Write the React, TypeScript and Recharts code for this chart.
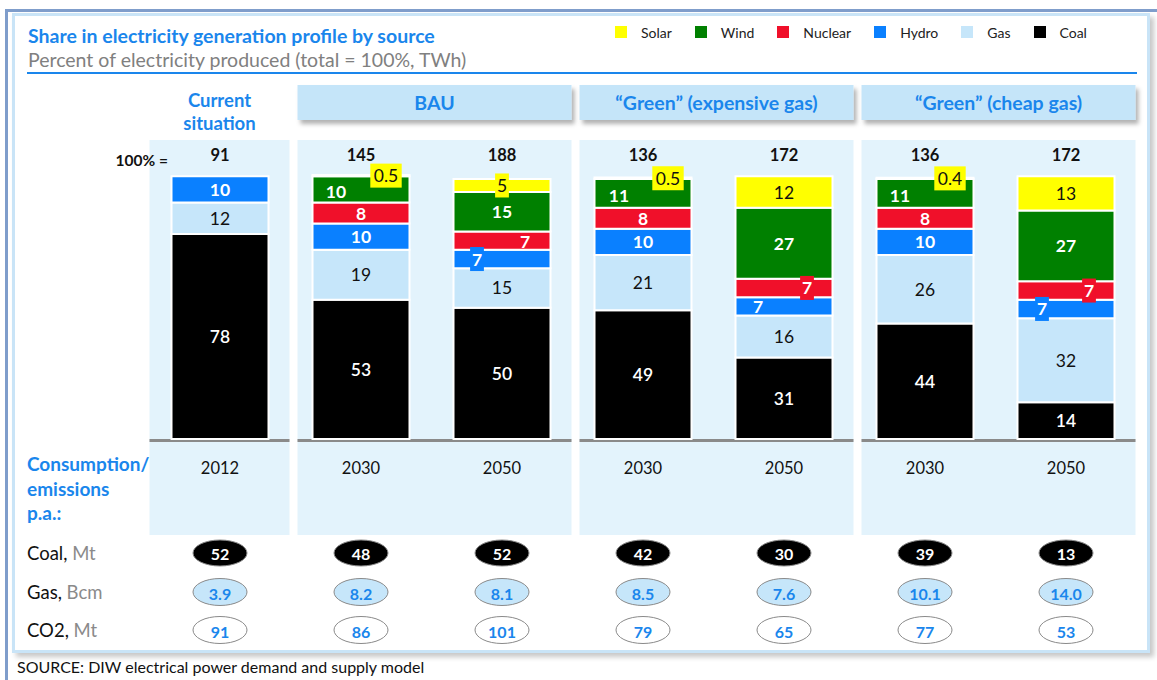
import React from "react";
import { BarChart, Bar, XAxis, YAxis, LabelList, ReferenceArea } from "recharts";

// columns
const ids = ["cur-2012", "bau-2030", "bau-2050", "gexp-2030", "gexp-2050", "gcheap-2030", "gcheap-2050"];
const years = ["2012", "2030", "2050", "2030", "2050", "2030", "2050"];
const totalsTWh = [91, 145, 188, 136, 172, 136, 172];

// share of generation, %
const coal = [78, 53, 50, 49, 31, 44, 14];
const gas = [12, 19, 15, 21, 16, 26, 32];
const hydro = [10, 10, 7, 10, 7, 10, 7];
const nuclear = [null, 8, 7, 8, 7, 8, 7];
const wind = [null, 10, 15, 11, 27, 11, 27];
const solar = [null, 0.5, 5, 0.5, 12, 0.4, 13];

// consumption / emissions p.a.
const coalMt = ["52", "48", "52", "42", "30", "39", "13"];
const gasBcm = ["3.9", "8.2", "8.1", "8.5", "7.6", "10.1", "14.0"];
const co2Mt = ["91", "86", "101", "79", "65", "77", "53"];

const groups = [
  { name: "Current situation", from: 0, to: 0 },
  { name: "BAU", from: 1, to: 2 },
  { name: "\u201cGreen\u201d (expensive gas)", from: 3, to: 4 },
  { name: "\u201cGreen\u201d (cheap gas)", from: 5, to: 6 },
];

const BLUE = "#1a86ec";
const FONT = "Lato, 'Open Sans', sans-serif";

const series = [
  { key: "coal", name: "Coal", values: coal, color: "#000000", text: "#ffffff", weight: 600 },
  { key: "gas", name: "Gas", values: gas, color: "#c6e6fa", text: "#111111", weight: 400 },
  { key: "hydro", name: "Hydro", values: hydro, color: "#0a80ff", text: "#ffffff", weight: 700 },
  { key: "nuclear", name: "Nuclear", values: nuclear, color: "#f0102a", text: "#ffffff", weight: 700 },
  { key: "wind", name: "Wind", values: wind, color: "#008000", text: "#ffffff", weight: 700 },
  { key: "solar", name: "Solar", values: solar, color: "#ffff00", text: "#111111", weight: 400 },
];

// small segments get their label pushed aside, some on a coloured tag
const labelSpots: Record<string, Record<number, { dx?: number; dy?: number; box?: boolean }>> = {
  solar: { 1: { dx: 25, box: true }, 2: { box: true }, 3: { dx: 25, box: true }, 5: { dx: 25, box: true } },
  wind: { 1: { dx: -25, dy: 2 }, 3: { dx: -24, dy: 2 }, 5: { dx: -25, dy: 2 } },
  nuclear: { 2: { dx: 23, dy: 1 }, 4: { dx: 23, box: true }, 6: { dx: 23, box: true } },
  hydro: { 2: { dx: -25, box: true }, 4: { dx: -26 }, 6: { dx: -24, box: true } },
};

const rows = ids.map((id, i) => {
  const row: any = { id };
  series.forEach((s) => (row[s.key] = s.values[i]));
  return row;
});

// label value carries the column index so nulls don't shift the placement lookup
const labelValue = (key: string) => (row: any) => (row[key] == null ? null : `${ids.indexOf(row.id)}|${row[key]}`);

const renderLabel = (s: any) => (props: any) => {
  const vb = props.viewBox || props;
  const x = props.x ?? vb.x;
  const y = props.y ?? vb.y;
  const width = props.width ?? vb.width;
  const height = props.height ?? vb.height;
  if (props.value == null) return null;
  const [idxStr, txt] = String(props.value).split("|");
  const index = Number(idxStr);
  const spot = (labelSpots[s.key] || {})[index] || {};
  const cx = x + width / 2 + (spot.dx || 0);
  const cy = y + height / 2 + (spot.dy || 0);
  const w = txt.length * 8.8 + 5;
  return (
    <g>
      {spot.box && <rect x={cx - w / 2} y={cy - 12} width={w} height={24} fill={s.color} />}
      <text x={cx} y={cy} textAnchor="middle" dominantBaseline="central" fill={s.text} fontSize={17.5} fontWeight={s.weight} fontFamily={FONT}>
        {txt}
      </text>
    </g>
  );
};

const TotalTick = (props: any) => {
  const { x, y, payload } = props;
  const i = props.index ?? payload.index;
  return (
    <text x={x} y={y + 5} textAnchor="middle" dominantBaseline="central" fontSize={16.5} fontWeight={700} fill="#111" fontFamily={FONT}>
      {totalsTWh[i]}
    </text>
  );
};

const YearTick = (props: any) => {
  const { x, y, payload } = props;
  const i = props.index ?? payload.index;
  const t = { textAnchor: "middle" as const, dominantBaseline: "central" as const, fontFamily: FONT };
  return (
    <g>
      <text x={x} y={y + 29} {...t} fontSize={16.5} fill="#111">{years[i]}</text>
      <ellipse cx={x} cy={y + 114} rx={27} ry={13} fill="#000" stroke="#8a8a8a" strokeWidth={1} />
      <text x={x} y={y + 114} {...t} fontSize={16} fontWeight={700} fill="#fff">{coalMt[i]}</text>
      <ellipse cx={x} cy={y + 153} rx={27} ry={13.5} fill="#c6e6fa" stroke="#8a8a8a" strokeWidth={1} />
      <text x={x} y={y + 154} {...t} fontSize={16} fontWeight={700} fill={BLUE}>{gasBcm[i]}</text>
      <ellipse cx={x} cy={y + 191} rx={27} ry={13.5} fill="#fff" stroke="#8a8a8a" strokeWidth={1} />
      <text x={x} y={y + 192} {...t} fontSize={16} fontWeight={700} fill={BLUE}>{co2Mt[i]}</text>
    </g>
  );
};

const panelShape = (g: any, gi: number) => (props: any) => {
  const { x, y, width, height } = props;
  const left = x + (gi === 0 ? 0 : 7);
  const w = width - (gi === 0 ? 1 : 8);
  const base = y + height;
  const fid = `hdr-shadow-${gi}`;
  return (
    <g>
      <rect x={left} y={y - 10} width={w} height={height + 106} fill="#e3f3fc" />
      <rect x={left} y={base} width={w} height={3} fill="#8a8a8a" />
      {gi === 0 ? (
        <text x={left + w / 2} y={y - 50} textAnchor="middle" dominantBaseline="central" fontSize={18.5} fontWeight={700} fill={BLUE} fontFamily={FONT}>
          <tspan x={left + w / 2}>Current</tspan>
          <tspan x={left + w / 2} dy={23}>situation</tspan>
        </text>
      ) : (
        <g>
          <defs>
            <filter id={fid} x="-5%" y="-30%" width="115%" height="170%">
              <feDropShadow dx="3" dy="4" stdDeviation="2" floodColor="#000" floodOpacity="0.3" />
            </filter>
          </defs>
          <rect x={left} y={y - 65} width={w} height={35} fill="#c5e5f9" filter={`url(#${fid})`} />
          <text x={left + w / 2} y={y - 48} textAnchor="middle" dominantBaseline="central" fontSize={19.5} fontWeight={700} fill={BLUE} fontFamily={FONT}>
            {g.name}
          </text>
        </g>
      )}
    </g>
  );
};

const abs = (s: React.CSSProperties): React.CSSProperties => ({ position: "absolute", whiteSpace: "nowrap", ...s });

const App = () => {
  return (
    <div style={{ position: "absolute", left: 0, top: 0, width: 1157, height: 680, background: "#fff", fontFamily: FONT, overflow: "hidden" }}>
      {/* frame */}
      <div style={abs({ left: 5, top: 9, width: 1160, height: 680, borderTop: "3px solid #7f9dcb", borderLeft: "3px solid #7f9dcb", boxSizing: "border-box" })} />
      <div style={abs({ left: 12, top: 13, width: 1138, height: 640, border: "3px solid #c9e4f7", background: "#fff", boxSizing: "border-box", boxShadow: "4px 4px 5px rgba(0,0,0,0.22)" })} />

      <div style={abs({ left: 0, top: 0 })}>
        <BarChart width={1157} height={680} data={rows} margin={{ top: 120, right: 20.5, bottom: 41, left: 149.5 }} barSize={97}>
          <YAxis hide domain={[0, 110]} />
          <XAxis xAxisId="top" orientation="top" dataKey="id" height={30} axisLine={false} tickLine={false} tickSize={0} tickMargin={0} interval={0} tick={<TotalTick />} />
          <XAxis dataKey="id" height={200} axisLine={false} tickLine={false} tickSize={0} tickMargin={0} interval={0} tick={<YearTick />} />
          {groups.map((g, gi) => (
            <ReferenceArea key={g.name} x1={ids[g.from]} x2={ids[g.to]} y1={0} y2={110} shape={panelShape(g, gi)} />
          ))}
          {series.map((s) => (
            <Bar key={s.key} dataKey={s.key} name={s.name} stackId="mix" fill={s.color} stroke="#fff" strokeWidth={2} isAnimationActive={false}>
              <LabelList dataKey={labelValue(s.key)} content={renderLabel(s)} />
            </Bar>
          ))}
        </BarChart>
      </div>

      {/* titles */}
      <div style={abs({ left: 28, top: 25, fontSize: 19.5, fontWeight: 700, color: BLUE, lineHeight: "22px" })}>
        Share in electricity generation profile by source
      </div>
      <div style={abs({ left: 28, top: 49, fontSize: 19.5, color: "#808080", lineHeight: "22px" })}>
        Percent of electricity produced (total = 100%, TWh)
      </div>
      <div style={abs({ left: 27, top: 72, width: 1110, height: 1.5, background: BLUE })} />

      {/* legend */}
      <div style={abs({ left: 615, top: 24, display: "flex", alignItems: "center", height: 16, fontSize: 14, color: "#222" })}>
        {[...series].reverse().map((s) => (
          <div key={s.key} style={{ display: "flex", alignItems: "center", marginRight: 23 }}>
            <span style={{ display: "inline-block", width: 12, height: 12, background: s.color, marginRight: 14 }} />
            <span>{s.name}</span>
          </div>
        ))}
      </div>

      <div style={abs({ left: 100, top: 150, width: 68, textAlign: "right", fontSize: 15.5, fontWeight: 700, color: "#111", lineHeight: "20px" })}>
        100% =
      </div>

      <div style={abs({ left: 27, top: 452, fontSize: 19, fontWeight: 700, color: BLUE, lineHeight: "24.5px", whiteSpace: "normal" })}>
        Consumption/
        <br />
        emissions
        <br />
        p.a.:
      </div>

      {[
        ["Coal, ", "Mt", 541],
        ["Gas, ", "Bcm", 580],
        ["CO2, ", "Mt", 618],
      ].map(([a, b, top]) => (
        <div key={a as string} style={abs({ left: 27, top: top as number, fontSize: 18.5, lineHeight: "24px", color: "#111" })}>
          {a}
          <span style={{ color: "#8a8a8a" }}>{b}</span>
        </div>
      ))}

      <div style={abs({ left: 17, top: 657, fontSize: 16, lineHeight: "20px", color: "#111" })}>
        SOURCE: DIW electrical power demand and supply model
      </div>
    </div>
  );
};

export default App;
